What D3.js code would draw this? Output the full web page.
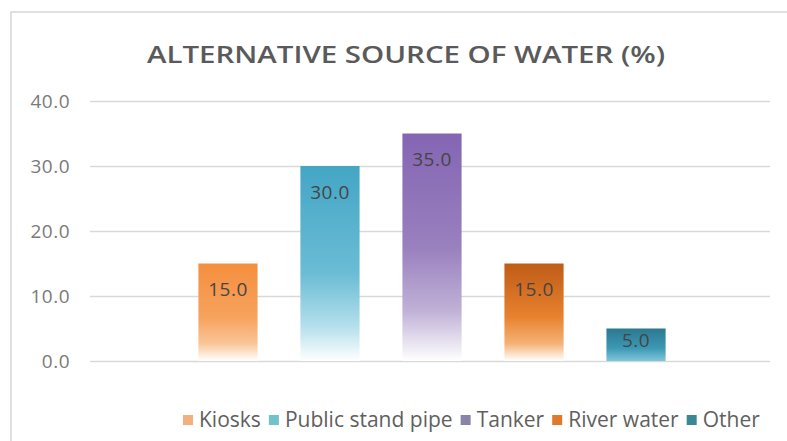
<!DOCTYPE html>
<html>
<head>
<meta charset="utf-8">
<script src="https://cdn.jsdelivr.net/npm/d3@7"></script>
<style>
  html, body { margin: 0; padding: 0; background: #ffffff; }
  svg { display: block; }
  text { font-family: "Open Sans", "DejaVu Sans", sans-serif; }
</style>
</head>
<body>
<svg id="chart" width="787" height="441"></svg>
<script>
// Alternative source of water, share of respondents (%)
const seriesNames = ["Kiosks", "Public stand pipe", "Tanker", "River water", "Other"];
const seriesValues = [15.0, 30.0, 35.0, 15.0, 5.0];
const yTicks = [0, 10, 20, 30, 40];
const chartTitle = "ALTERNATIVE SOURCE OF WATER (%)";

// Gradient fills per series: [offset, colour] from bar top to bar bottom
const barGradients = [
  [[0, "#F48F40"], [0.55, "#F7A25C"], [0.82, "#F9C597"], [1, "#FFFFFF"]],
  [[0, "#43A6C5"], [0.55, "#6BBCD5"], [0.82, "#B3DFEC"], [1, "#FFFFFF"]],
  [[0, "#8465B3"], [0.5, "#9980BE"], [0.78, "#C0B1D7"], [1, "#FFFFFF"]],
  [[0, "#BF5C17"], [0.55, "#E8822F"], [0.82, "#F5B275"], [1, "#FFFFFF"]],
  [[0, "#2C7890"], [0.6, "#3C98B3"], [1, "#7FC6DA"]]
];
const legendColors = ["#F2B07E", "#72C2CC", "#8C84A8", "#DD7A2C", "#3A8894"];

const svg = d3.select("#chart");
const W = 787, H = 441;

// Chart area frame
svg.append("rect")
  .attr("x", 11).attr("y", 12)
  .attr("width", W).attr("height", H)
  .attr("fill", "#ffffff")
  .attr("stroke", "#d6d6d6").attr("stroke-width", 1.5);

const plot = { left: 90, right: 770, top: 101, bottom: 361 };

const y = d3.scaleLinear().domain([0, 40]).range([plot.bottom, plot.top]);
const x = d3.scaleBand()
  .domain(seriesNames)
  .range([plot.left + 2, plot.right + 2])
  .paddingInner(0.42)
  .paddingOuter(1.043);

// Gradient definitions
const defs = svg.append("defs");
barGradients.forEach((stops, i) => {
  const g = defs.append("linearGradient")
    .attr("id", "grad" + i)
    .attr("x1", 0).attr("y1", 0).attr("x2", 0).attr("y2", 1);
  stops.forEach(([o, c]) => g.append("stop").attr("offset", o).attr("stop-color", c));
});

// Horizontal gridlines
const grid = svg.append("g")
  .attr("transform", `translate(${plot.left},0)`)
  .call(d3.axisLeft(y).tickValues(yTicks).tickSize(-(plot.right - plot.left)).tickFormat(""));
grid.select(".domain").remove();
grid.selectAll(".tick line").attr("stroke", "#d9d9d9").attr("stroke-width", 1.6);

// Y axis labels
const yAxis = svg.append("g")
  .attr("transform", `translate(${plot.left - 20},0)`)
  .call(d3.axisLeft(y).tickValues(yTicks).tickSize(0).tickFormat(d3.format(".1f")));
yAxis.select(".domain").remove();
yAxis.selectAll(".tick text")
  .attr("x", 0)
  .attr("fill", "#7a7a7a")
  .style("font-size", "19px")
  .style("letter-spacing", "0.5px")
  .style("font-family", "\"Open Sans\", sans-serif");

// Bars
const data = seriesNames.map((name, i) => ({ name, value: seriesValues[i], i }));
svg.append("g").selectAll("rect")
  .data(data)
  .join("rect")
  .attr("x", d => x(d.name))
  .attr("y", d => y(d.value))
  .attr("width", x.bandwidth())
  .attr("height", d => y(0) - y(d.value))
  .attr("fill", d => `url(#grad${d.i})`);

// Data labels, inside end
svg.append("g").selectAll("text")
  .data(data)
  .join("text")
  .attr("x", d => x(d.name) + x.bandwidth() / 2)
  .attr("y", d => y(d.value) + Math.min(26, (y(0) - y(d.value)) * 0.35))
  .attr("dy", "0.35em")
  .attr("text-anchor", "middle")
  .attr("fill", "#454545")
  .style("font-size", "19px")
  .style("letter-spacing", "0.5px")
  .text(d => d3.format(".1f")(d.value));

// Title
svg.append("text")
  .attr("x", 406).attr("y", 55)
  .attr("dy", "0.35em")
  .attr("text-anchor", "middle")
  .attr("fill", "#5a5a5a")
  .attr("textLength", 518)
  .attr("lengthAdjust", "spacingAndGlyphs")
  .style("font-size", "23px")
  .style("font-weight", 600)
  .text(chartTitle);

// Legend, right-aligned beneath the plot
const legend = svg.append("g");
const swatch = 10, swGap = 6, itemGap = 8;
const legendLeft = 183, legendRight = 760;
const items = legend.selectAll("g").data(data).join("g");
items.append("rect")
  .attr("width", swatch).attr("height", swatch)
  .attr("y", -swatch / 2)
  .attr("fill", d => legendColors[d.i]);
const labels = items.append("text")
  .attr("x", swatch + swGap)
  .attr("dy", "0.35em")
  .attr("fill", "#5f5f5f")
  .style("font-size", "18px")
  .text(d => d.name);
// Size the legend text so the row spans the available width
let textTotal = 0;
labels.each(function () { textTotal += this.getComputedTextLength(); });
const fixed = data.length * (swatch + swGap) + itemGap * (data.length - 1);
const fontSize = 18 * (legendRight - legendLeft - fixed) / textTotal;
labels.style("font-size", fontSize + "px");
let cx = legendLeft;
items.attr("transform", function () {
  const t = `translate(${cx},420)`;
  cx += swatch + swGap + this.querySelector("text").getComputedTextLength() + itemGap;
  return t;
});
</script>
</body>
</html>
